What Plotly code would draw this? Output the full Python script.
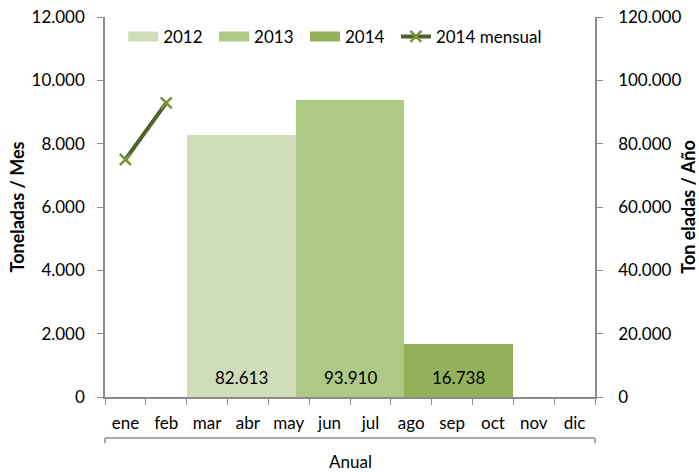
import plotly.graph_objects as go

months = ["ene", "feb", "mar", "abr", "may", "jun", "jul", "ago", "sep", "oct", "nov", "dic"]
monthly_2014 = [7500, 9290]
years = ["2012", "2013", "2014"]
annual_totals = [82613, 93910, 16738]
year_colors = ["#cfddba", "#aec886", "#93b15a"]
line_color = "#4f6228"
marker_color = "#77933c"
axis_color = "#8c8c8c"
FONT = "Lato"
FS = 17
PAD = "\u00a0\u2009"

fig = go.Figure()

# annual bars on secondary axes
for i, (yr, val, col) in enumerate(zip(years, annual_totals, year_colors)):
    fig.add_trace(go.Bar(
        x=[yr], y=[val], name=yr, marker=dict(color=col, line=dict(width=0)),
        width=1, xaxis="x2", yaxis="y2", showlegend=False,
    ))
    fig.add_annotation(x=i, y=0, xref="x2", yref="y2", text=f"{val:,}".replace(",", "."),
                       showarrow=False, yanchor="middle", yshift=20,
                       font=dict(size=FS, color="black", family=FONT))

# legend entries (wide swatches like the original)
for yr, col in zip(years, year_colors):
    fig.add_trace(go.Scatter(x=[None], y=[None], mode="lines", name=yr + PAD,
                             line=dict(color=col, width=10)))

fig.add_trace(go.Scatter(
    x=months[:len(monthly_2014)], y=monthly_2014, mode="lines+markers",
    name="2014 mensual", line=dict(color=line_color, width=4),
    marker=dict(symbol="x-thin", size=11, line=dict(color=marker_color, width=2.5), color=marker_color),
))

fig.update_layout(
    width=699, height=472,
    margin=dict(l=105, r=104, t=17, b=75, autoexpand=False),
    paper_bgcolor="white", plot_bgcolor="white",
    font=dict(family=FONT, size=FS, color="black"),
    separators=",.",
    barmode="overlay", bargap=0,
    showlegend=True,
    legend=dict(orientation="h", x=0.037, y=0.995, xanchor="left", yanchor="top",
                font=dict(size=FS), bgcolor="rgba(0,0,0,0)", tracegroupgap=0,
                itemwidth=30),
    xaxis=dict(type="category", categoryorder="array", categoryarray=months,
               range=[-0.5, 11.5], tickson="boundaries", ticks="outside",
               ticklen=6, tickcolor=axis_color, showline=True, linecolor=axis_color,
               linewidth=1.5, showgrid=False, zeroline=False, automargin=False,
               tickangle=0, ticklabelstandoff=10, tickfont=dict(size=FS)),
    xaxis2=dict(type="category", categoryorder="array", categoryarray=years,
                overlaying="x", range=[-1.25, 3.25], visible=False),
    xaxis3=dict(overlaying="x", range=[-0.5, 11.5], tickmode="linear", tick0=0,
                dtick=1, ticks="inside", ticklen=4, tickcolor=axis_color,
                showticklabels=False, showgrid=False, zeroline=False,
                showline=False, anchor="y"),
    yaxis=dict(range=[0, 12000], dtick=2000, tickformat=",d", ticks="outside",
               ticklen=6, tickcolor=axis_color, showline=True, linecolor=axis_color,
               linewidth=1.5, showgrid=False, zeroline=False, ticklabelstandoff=9,
               automargin=False,
               title=dict(text="<b>Toneladas / Mes</b>", font=dict(size=18), standoff=2)),
    yaxis2=dict(range=[0, 120000], dtick=20000, tickformat=",d", overlaying="y",
                side="right", ticks="outside", ticklen=6, tickcolor=axis_color,
                showline=True, linecolor=axis_color, linewidth=1.5, showgrid=False,
                zeroline=False, ticklabelstandoff=12, automargin=False,
                title=dict(text="<b>Ton eladas / Año</b>", font=dict(size=18), standoff=10)),
)

# category group bracket "Anual"
fig.add_shape(type="line", xref="paper", yref="paper", x0=0, x1=1, y0=-0.108, y1=-0.108,
              line=dict(color=axis_color, width=1.5))
for xe in (0, 1):
    fig.add_shape(type="line", xref="paper", yref="paper", x0=xe, x1=xe, y0=-0.108, y1=-0.122,
                  line=dict(color=axis_color, width=1.5))
fig.add_annotation(text="Anual", xref="paper", yref="paper", x=0.5, y=-0.17,
                   showarrow=False, font=dict(size=FS), yanchor="middle")

fig.write_html("out.html", config={"displayModeBar": False},
               post_script="document.body.style.margin='0';")
